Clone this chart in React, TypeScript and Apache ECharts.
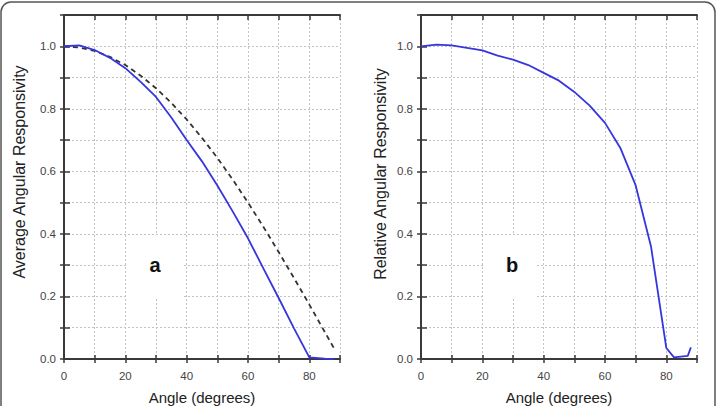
import React, { useEffect, useRef } from "react";
import * as echarts from "echarts";

// Panel a
const anglesA = [0, 5, 10, 15, 20, 25, 30, 35, 40, 45, 50, 55, 60, 65, 70, 75, 80, 85, 88];
const avgMeasured = [1.0, 1.003, 0.988, 0.963, 0.93, 0.886, 0.838, 0.772, 0.7, 0.632, 0.555, 0.472, 0.386, 0.29, 0.195, 0.098, 0.005, 0.001, 0.0];
const avgReference = [1.0, 0.996, 0.985, 0.966, 0.94, 0.906, 0.866, 0.819, 0.766, 0.707, 0.643, 0.574, 0.5, 0.423, 0.342, 0.259, 0.174, 0.087, 0.035];

// Panel b
const anglesB = [0, 5, 10, 15, 20, 25, 30, 35, 40, 45, 50, 55, 60, 65, 70, 75, 80, 82.5, 87, 88];
const relative = [1.0, 1.005, 1.003, 0.995, 0.987, 0.97, 0.957, 0.94, 0.915, 0.89, 0.854, 0.81, 0.755, 0.675, 0.555, 0.36, 0.035, 0.005, 0.01, 0.037];

const xTickLabels = ["0", "20", "40", "60", "80"];
const yTickLabels = ["0.0", "0.2", "0.4", "0.6", "0.8", "1.0"];

const FONT = "Liberation Sans, Arial, sans-serif";

export default function App() {
  const ref = useRef<HTMLDivElement>(null);
  useEffect(() => {
    if (!ref.current) return;
    const chart = echarts.init(ref.current, undefined, { renderer: "svg" });
    const grids = [
      { left: 64, top: 15, width: 276, height: 344 },
      { left: 421, top: 15, width: 276, height: 344 },
    ];
    const xAxes: any[] = [];
    const yAxes: any[] = [];
    const grid = grids.map((g) => ({ ...g, show: false, containLabel: false }));
    const xFmt = (v: number) => {
      const s = String(Math.round(v));
      return xTickLabels.includes(s) && Math.abs(v - Math.round(v)) < 1e-6 ? s : "";
    };
    const yFmt = (v: number) => {
      const s = v.toFixed(1);
      return yTickLabels.includes(s) ? s : "";
    };
    grids.forEach((_, gi) => {
      const base = { gridIndex: gi, type: "value", min: 0, max: 90, interval: 10 };
      xAxes.push({
        ...base,
        position: "bottom",
        axisLine: { show: true, lineStyle: { color: "#3a3a3a", width: 2 } },
        axisTick: { show: true, inside: true, length: 4, lineStyle: { color: "#3a3a3a", width: 1.5 } },
        axisLabel: { show: true, formatter: xFmt, color: "#444", fontSize: 11.5, fontFamily: FONT, margin: 11 },
        splitLine: { show: true, lineStyle: { type: [2, 2], color: "#c2c2c2", width: 1 } },
      });
      xAxes.push({
        ...base,
        position: "bottom",
        axisLine: { show: false },
        axisTick: { show: true, inside: false, length: 4, lineStyle: { color: "#3a3a3a", width: 1.5 } },
        axisLabel: { show: false },
        splitLine: { show: false },
      });
      xAxes.push({
        ...base,
        position: "top",
        axisLine: { show: true, lineStyle: { color: "#3a3a3a", width: 2 } },
        axisTick: { show: true, inside: true, length: 5, lineStyle: { color: "#3a3a3a", width: 1.5 } },
        axisLabel: { show: false },
        splitLine: { show: false },
      });
      const ybase = { gridIndex: gi, type: "value", min: 0, max: 1.1, interval: 0.1 };
      yAxes.push({
        ...ybase,
        position: "left",
        axisLine: { show: true, lineStyle: { color: "#3a3a3a", width: 2 } },
        axisTick: { show: true, inside: true, length: 6, lineStyle: { color: "#3a3a3a", width: 1.5 } },
        axisLabel: { show: true, formatter: yFmt, color: "#444", fontSize: 11.5, fontFamily: FONT, margin: 8 },
        splitLine: { show: true, lineStyle: { type: [2, 2], color: "#c2c2c2", width: 1 } },
      });
      yAxes.push({
        ...ybase,
        position: "right",
        axisLine: { show: true, lineStyle: { color: "#3a3a3a", width: 2 } },
        axisTick: { show: true, inside: true, length: 4, lineStyle: { color: "#3a3a3a", width: 1.5 } },
        axisLabel: { show: false },
        splitLine: { show: false },
      });
    });

    const blue = "#3636de";
    const series: any[] = [
      {
        type: "line",
        xAxisIndex: 0,
        yAxisIndex: 0,
        data: anglesA.map((a, i) => [a, avgReference[i]]),
        showSymbol: false,
        lineStyle: { color: "#333", width: 1.8, type: [5, 4] },
        z: 3,
      },
      {
        type: "line",
        xAxisIndex: 0,
        yAxisIndex: 0,
        data: anglesA.map((a, i) => [a, avgMeasured[i]]),
        showSymbol: false,
        lineStyle: { color: blue, width: 1.8 },
        z: 4,
      },
      {
        type: "line",
        xAxisIndex: 3,
        yAxisIndex: 2,
        data: anglesB.map((a, i) => [a, relative[i]]),
        showSymbol: false,
        lineStyle: { color: blue, width: 1.8 },
        z: 4,
      },
    ];

    const titleStyle = { fill: "#222", fontSize: 15, fontFamily: FONT };
    const graphic: any[] = [
      { type: "rect", z: 1, shape: { x: 128, y: 235, width: 54, height: 63 }, style: { fill: "#fff" } },
      { type: "rect", z: 1, shape: { x: 485, y: 235, width: 50, height: 63 }, style: { fill: "#fff" } },
      { type: "text", z: 5, x: 155, y: 265, style: { text: "a", fill: "#111", fontSize: 20, fontWeight: "bold", fontFamily: FONT, align: "center", verticalAlign: "middle" } },
      { type: "text", z: 5, x: 512, y: 265, style: { text: "b", fill: "#111", fontSize: 20, fontWeight: "bold", fontFamily: FONT, align: "center", verticalAlign: "middle" } },
      { type: "text", z: 5, x: 202, y: 397, style: { ...titleStyle, text: "Angle (degrees)", align: "center", verticalAlign: "middle" } },
      { type: "text", z: 5, x: 559, y: 397, style: { ...titleStyle, text: "Angle (degrees)", align: "center", verticalAlign: "middle" } },
      { type: "text", z: 5, x: 19, y: 172, rotation: Math.PI / 2, style: { ...titleStyle, fontSize: 16, text: "Average Angular Responsivity", align: "center", verticalAlign: "middle" } },
      { type: "text", z: 5, x: 380, y: 174, rotation: Math.PI / 2, style: { ...titleStyle, fontSize: 16, text: "Relative Angular Responsivity", align: "center", verticalAlign: "middle" } },
      { type: "rect", z: 10, shape: { x: 1, y: 2, width: 714, height: 430, r: 10 }, style: { fill: "none", stroke: "#555", lineWidth: 1.5 } },
    ];

    chart.setOption({
      animation: false,
      backgroundColor: "#fff",
      grid,
      xAxis: xAxes,
      yAxis: yAxes,
      series,
      graphic,
    });
    return () => chart.dispose();
  }, []);
  return (
    <div
      ref={ref}
      style={{ position: "fixed", left: 0, top: 0, width: 717, height: 406 }}
    />
  );
}
